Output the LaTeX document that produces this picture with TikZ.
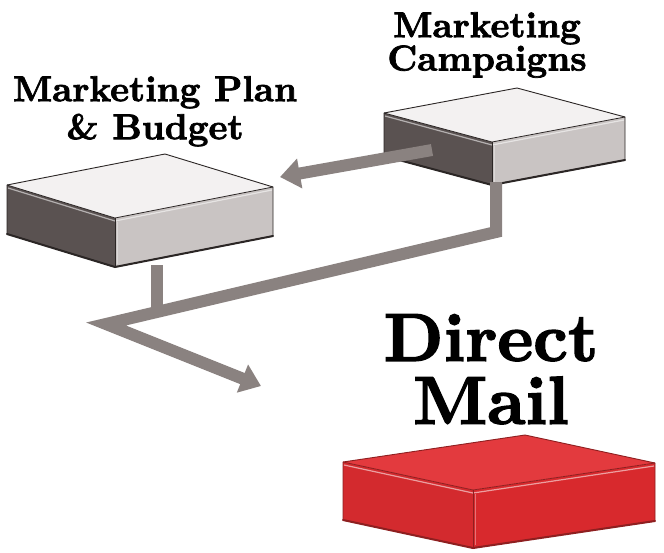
\documentclass[tikz,border=0pt]{standalone}
\usepackage{fontspec}
\newfontfamily\heavy{lmroman10-bold.otf}[FakeBold=2]
\usetikzlibrary{calc,arrows.meta}
\definecolor{topgray}{HTML}{F3F1F1}
\definecolor{sidegray}{HTML}{C9C4C3}
\definecolor{darkgray}{HTML}{5A5251}
\definecolor{edgegray}{HTML}{2B2625}
\definecolor{arrowgray}{HTML}{8A8280}
\definecolor{redtop}{HTML}{E33A3E}
\definecolor{redside}{HTML}{D8292D}
\definecolor{redleft}{HTML}{D32A2E}
\definecolor{rededge}{HTML}{8E1F20}
\tikzset{
  gleft/.style={fill=darkgray},
  gright/.style={fill=sidegray},
  gtop/.style={fill=topgray},
  gedge/.style={draw=edgegray},
  rleft/.style={fill=redleft},
  rright/.style={fill=redside},
  rtop/.style={fill=redtop},
  redge/.style={draw=rededge},
  flow/.style={draw=arrowgray,line width=12pt,line join=miter,
    -{Triangle[length=20pt,width=29pt]}},
  flowline/.style={draw=arrowgray,line width=12pt},
  lab/.style={anchor=north,inner sep=0pt,align=center,
    font=\heavy\fontsize{36}{38}\selectfont},
  labc/.style={anchor=north,inner sep=0pt,align=center,
    font=\heavy\fontsize{36}{31}\selectfont},
  big/.style={anchor=north,inner sep=0pt,align=center,
    font=\heavy\fontsize{68}{63}\selectfont},
}
% #1 name, #2 L, #3 F, #4 R, #5 B, #6 height, #7 style prefix
\newcommand\slab[7]{%
  \coordinate (#1L) at (#2);
  \coordinate (#1F) at (#3);
  \coordinate (#1R) at (#4);
  \coordinate (#1B) at (#5);
  \coordinate (#1Lb) at ($(#1L)+(0,#6)$);
  \coordinate (#1Fb) at ($(#1F)+(0,#6)$);
  \coordinate (#1Rb) at ($(#1R)+(0,#6)$);
  \path[#7left] (#1L) -- (#1F) -- (#1Fb) -- (#1Lb) -- cycle;
  \path[#7right] (#1F) -- (#1R) -- (#1Rb) -- (#1Fb) -- cycle;
  \path[#7top] (#1L) -- (#1B) -- (#1R) -- (#1F) -- cycle;
  \draw[white,opacity=0.55,line width=1.2pt]
    ($(#1L)+(1,3)$) -- ($(#1F)+(0,3)$) -- ($(#1R)+(-1,3)$);
  \draw[white,opacity=0.35,line width=1.5pt]
    ($(#1F)+(2.5,4)$) -- ($(#1Fb)+(2.5,-3)$);
  \draw[#7edge,line width=0.9pt,line join=round]
    (#1L) -- (#1B) -- (#1R) -- (#1Rb) -- (#1Fb) -- (#1Lb) -- cycle;
  \draw[#7edge,line width=0.8pt] (#1L) -- (#1F) -- (#1R);
  \draw[#7edge,line width=0.8pt] (#1F) -- (#1Fb);
  \draw[#7edge,line width=2pt,line cap=round] (#1Lb) -- (#1Fb) -- (#1Rb);
}
\begin{document}
\begin{tikzpicture}[x=1pt,y=-1pt]
\useasboundingbox[fill=white] (0,0) rectangle (664,552);

% boxes
\slab{p}{7,185}{115,218}{273,187}{165,154}{49}{g}
\slab{c}{384,113}{492,142}{625,117}{517,88}{43}{g}
\slab{d}{343,462}{473,490}{655,463}{525,435}{58}{r}

% connector coordinates
\coordinate (cout) at (432,150);
\coordinate (pin) at (280,177);
\coordinate (cbot) at (496,182);
\coordinate (j1) at (496,232);
\coordinate (j2) at (106,324);
\coordinate (tip) at (261,386);
\coordinate (pbot) at (157,265);
\coordinate (jn) at ($(j1)!0.87!(j2)$);

% connectors
\draw[flow] (cout) -- (pin);
\draw[flowline] (pbot) -- (pbot |- jn);
\draw[flow] (cbot) -- (j1) -- (j2) -- (tip);

% labels
\node[lab] (t1) at (155,76) {Marketing Plan\\\& Budget};
\node[labc] (t2) at (487,12) {Marketing\\Campaigns};
\node[big] (t3) at (491,314) {Direct\\Mail};
\end{tikzpicture}
\end{document}
